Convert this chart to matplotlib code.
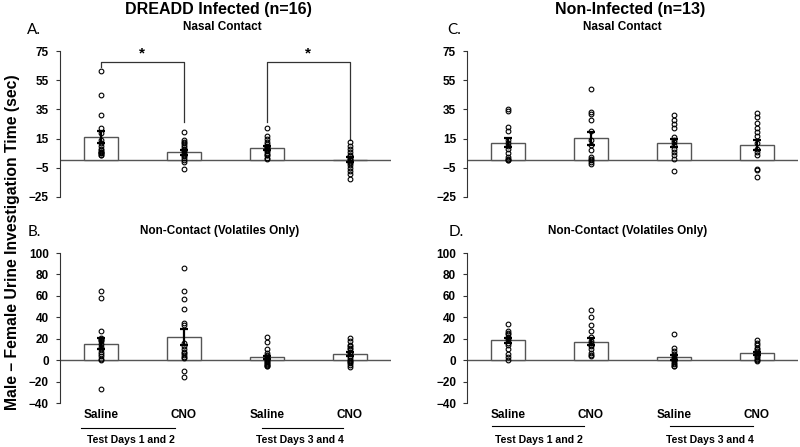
import matplotlib
matplotlib.use("Agg")
import matplotlib.pyplot as plt
import matplotlib.transforms as mtransforms
import numpy as np

plt.rcParams['font.family'] = ['Liberation Sans', 'DejaVu Sans']

categories = ["Saline", "CNO", "Saline", "CNO"]
day_groups = ["Test Days 1 and 2", "Test Days 3 and 4"]

# Panel A: Nasal contact, DREADD infected (n=16)
A_means = [16.2, 5.7, 8.6, 0.6]
A_sems = [4.2, 1.6, 1.3, 1.6]
A_sal12 = [61, 45, 31, 22, 19, 14, 12, 10, 8, 7, 6, 6, 5, 5, 4, 4]
A_cno12 = [19.5, 14, 13, 12, 10.5, 9, 8, 7.5, 6.5, 5, 4, 3, 1.5, 0.5, -1, -5.5]
A_sal34 = [22, 17, 15, 12.5, 11, 10, 9.5, 9, 8, 7.5, 6.5, 5, 4, 3.5, 2, 1]
A_cno34 = [12.5, 10, 8, 6, 4, 3, 2, 1, 0, -1, -2, -3, -5, -7, -9, -12.5]

# Panel B: Non-contact, DREADD infected (n=16)
B_means = [15.3, 21.3, 2.5, 5.9]
B_sems = [5.3, 7.5, 1.8, 1.9]
B_sal12 = [65, 58, 27, 21, 20, 19, 18, 15, 12, 10, 8, 6, 4, 1, 0, -27]
B_cno12 = [86, 65, 57, 48, 35, 33, 16, 13, 10, 8, 7, 5, 3, 2, -10, -16]
B_sal34 = [22, 17, 10, 7, 5, 3.5, 2, 1, 0, -1, -2, -3, -4, -4.5, -5, -5.5]
B_cno34 = [20.5, 18, 14, 13, 11, 10, 8, 6.5, 4, 2, 0, -1, -2, -3, -4.5, -6]

# Panel C: Nasal contact, Non-infected (n=13)
C_means = [12.2, 15.2, 12.0, 10.9]
C_sems = [3.2, 4.5, 2.8, 3.4]
C_sal12 = [35, 34, 23, 20, 14, 12, 10, 8, 5, 2.5, 1, 0.5, 0]
C_cno12 = [49, 33, 32, 28, 20, 14, 10.5, 7.5, 2.5, 1, 0, -1, -2.5]
C_sal34 = [31, 28, 25, 22, 16, 14, 12.5, 10.5, 8, 6, 3.5, 1, -7.5]
C_cno34 = [32.5, 29.5, 26, 22, 19.5, 17, 12, 8, 6, 3.5, -5.5, -6.5, -11]

# Panel D: Non-contact, Non-infected (n=13)
D_means = [18.5, 17.3, 2.8, 6.3]
D_sems = [2.6, 3.5, 2.2, 1.5]
D_sal12 = [34, 27, 25.5, 24, 22, 21, 19, 16, 14, 10.5, 5.5, 3, 0]
D_cno12 = [47, 40, 33, 27, 22, 18, 16, 14, 13, 10, 7, 5, 3.5]
D_sal34 = [24, 11.5, 8.5, 5.5, 4, 2, 1, 0, -1, -2.5, -4, -5, -5.5]
D_cno34 = [18.5, 16, 14.5, 11.5, 10, 8.5, 7, 5.5, 4, 2.5, 1, 0.5, -1]

nasal_ticks = [-25, -5, 15, 35, 55, 75]
vol_ticks = [-40, -20, 0, 20, 40, 60, 80, 100]

fig = plt.figure(figsize=(8, 4.47), dpi=100)

W = 0.414
axA = fig.add_axes([0.075, 0.5593, W, 0.3266])
axB = fig.add_axes([0.075, 0.0984, W, 0.3356])
axC = fig.add_axes([0.584, 0.5593, W, 0.3266])
axD = fig.add_axes([0.584, 0.0984, W, 0.3356])

x = np.arange(4)


def draw(ax, means, sems, pts, ylim, ticks):
    ax.bar(x, means, width=0.41, color='white', edgecolor='#555555', linewidth=1.0, zorder=2)
    ax.axhline(0, color='#555555', lw=1.0, zorder=1)
    for i, p in enumerate(pts):
        ax.plot(np.full(len(p), x[i]), p, 'o', mfc='none', mec='black', ms=3.4, mew=0.8, zorder=3)
    ax.errorbar(x, means, yerr=sems, fmt='none', ecolor='black', elinewidth=1.6, capsize=3, capthick=1.6, zorder=4)
    ax.set_xlim(-0.49, 3.5)
    ax.set_ylim(*ylim)
    ax.set_yticks(ticks)
    ax.set_xticks([])
    for s in ['top', 'right', 'bottom']:
        ax.spines[s].set_visible(False)
    ax.spines['left'].set_linewidth(0.8)
    ax.spines['left'].set_color('#333333')
    ax.tick_params(axis='y', length=3, width=0.8, pad=5, labelsize=8.5, colors='#333333')
    for lab in ax.get_yticklabels():
        lab.set_fontweight('bold')
        lab.set_color('black')
    ax.patch.set_alpha(0)


draw(axA, A_means, A_sems, [A_sal12, A_cno12, A_sal34, A_cno34], (-25, 75), nasal_ticks)
draw(axB, B_means, B_sems, [B_sal12, B_cno12, B_sal34, B_cno34], (-40, 100), vol_ticks)
draw(axC, C_means, C_sems, [C_sal12, C_cno12, C_sal34, C_cno34], (-25, 75), nasal_ticks)
draw(axD, D_means, D_sems, [D_sal12, D_cno12, D_sal34, D_cno34], (-40, 100), vol_ticks)

# significance brackets on panel A
axA.plot([0, 0, 1, 1], [64, 67.6, 67.6, 26.5], color='#333333', lw=0.9, clip_on=False)
axA.plot([2, 2, 3, 3], [26.5, 67.6, 67.6, 14.3], color='#333333', lw=0.9, clip_on=False)
axA.text(0.5, 68.5, '*', ha='center', va='bottom', fontsize=11, fontweight='bold')
axA.text(2.5, 68.5, '*', ha='center', va='bottom', fontsize=11, fontweight='bold')

# category labels and group lines under bottom panels
for ax, lines, grp_x, line_y in [
    (axB, [(-0.24, 0.89), (1.94, 2.92)], [0.36, 2.4], 0.0425),
    (axD, [(-0.19, 0.92), (1.95, 2.95)], [0.37, 2.44], 0.0470),
]:
    tr = mtransforms.blended_transform_factory(ax.transData, fig.transFigure)
    for i, c in enumerate(categories):
        ax.text(x[i], 0.0716, c, transform=tr, ha='center', va='center', fontsize=8.5, fontweight='bold')
    for (a, b) in lines:
        ax.plot([a, b], [line_y, line_y], transform=tr, color='black', lw=0.8, clip_on=False)
    for gx, g in zip(grp_x, day_groups):
        ax.text(gx, 0.0157, g, transform=tr, ha='center', va='center', fontsize=7.6, fontweight='bold')

# titles
fig.text(0.2725, 0.978, 'DREADD Infected (n=16)', ha='center', va='center', fontsize=11.5, fontweight='bold')
fig.text(0.7875, 0.978, 'Non-Infected (n=13)', ha='center', va='center', fontsize=11.5, fontweight='bold')
fig.text(0.2775, 0.940, 'Nasal Contact', ha='center', va='center', fontsize=8.5, fontweight='bold')
fig.text(0.7775, 0.940, 'Nasal Contact', ha='center', va='center', fontsize=8.5, fontweight='bold')
fig.text(0.275, 0.483, 'Non-Contact (Volatiles Only)', ha='center', va='center', fontsize=8.5, fontweight='bold')
fig.text(0.785, 0.483, 'Non-Contact (Volatiles Only)', ha='center', va='center', fontsize=8.5, fontweight='bold')

# panel letters
fig.text(0.034, 0.933, 'A.', ha='left', va='center', fontsize=11, family='Lato')
fig.text(0.034, 0.481, 'B.', ha='left', va='center', fontsize=11, family='Lato')
fig.text(0.559, 0.933, 'C.', ha='left', va='center', fontsize=11, family='Lato')
fig.text(0.561, 0.481, 'D.', ha='left', va='center', fontsize=11, family='Lato')

fig.text(0.016, 0.4586, 'Male \u2013 Female Urine Investigation Time (sec)', rotation=90,
         ha='center', va='center', fontsize=11.3, fontweight='bold')

fig.savefig('out.png', dpi=100)
